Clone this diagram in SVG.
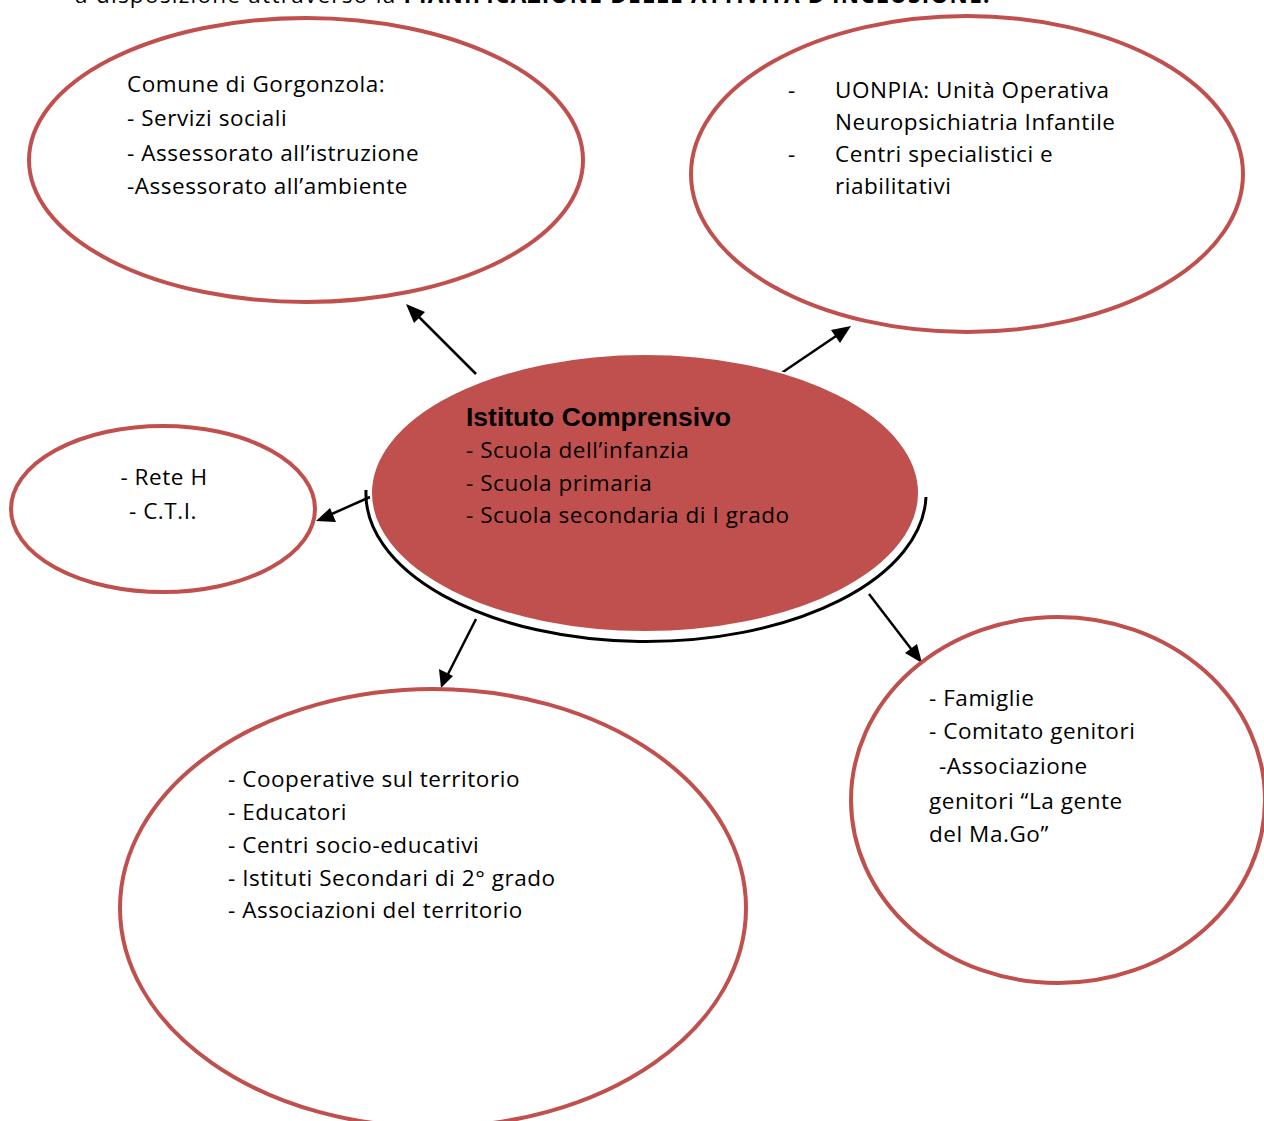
<svg xmlns="http://www.w3.org/2000/svg" width="1264" height="1121" viewBox="0 0 1264 1121">
<style>
.node{fill:#ffffff;stroke:#c0504d;stroke-width:4}
.t{font-family:"Open Sans",Lato,"Liberation Sans",sans-serif;font-size:22.5px;letter-spacing:0.55px;fill:#000;font-variant-ligatures:none}
.b{font-family:"Liberation Sans",Arial,sans-serif;font-size:26.5px;font-weight:bold;fill:#000}
.ln{stroke:#000;stroke-width:2.5;fill:none}
</style>
<rect width="1264" height="1121" fill="#fff"/>
<text class="t" x="75" y="3" textLength="915" lengthAdjust="spacing">a disposizione attraverso la <tspan font-weight="bold">PIANIFICAZIONE DELLE ATTIVITÀ D’INCLUSIONE.</tspan></text>
<g id="connectors">
<line class="ln" x1="476" y1="374" x2="412" y2="310"/>
<path d="M406,304 L425,312 L414,323 z" fill="#000"/>
<line class="ln" x1="780" y1="374" x2="842" y2="332"/>
<path d="M851,326 L840,343 L831,330 z" fill="#000"/>
<line class="ln" x1="370" y1="497" x2="325" y2="517"/>
<path d="M316,521 L330,508 L336,522 z" fill="#000"/>
<line class="ln" x1="476" y1="619" x2="446" y2="678"/>
<path d="M441,688 L439,669 L453,676 z" fill="#000"/>
<line class="ln" x1="869" y1="594" x2="915" y2="654"/>
<path d="M922,663 L905,653 L917,644 z" fill="#000"/>
</g>
<g id="comune">
<ellipse class="node" cx="306" cy="160" rx="277" ry="142"/>
<text class="t" x="127" y="92">Comune di Gorgonzola:</text>
<text class="t" x="127" y="126">- Servizi sociali</text>
<text class="t" x="127" y="161">- Assessorato all’istruzione</text>
<text class="t" x="127" y="194">-Assessorato all’ambiente</text>
</g>
<g id="uonpia">
<ellipse class="node" cx="967" cy="174" rx="276" ry="158"/>
<text class="t" x="788" y="98">-</text>
<text class="t" x="835" y="98">UONPIA: Unità Operativa</text>
<text class="t" x="835" y="130">Neuropsichiatria Infantile</text>
<text class="t" x="788" y="162">-</text>
<text class="t" x="835" y="162">Centri specialistici e</text>
<text class="t" x="835" y="194">riabilitativi</text>
</g>
<g id="reteh">
<ellipse class="node" cx="163" cy="509" rx="152" ry="83"/>
<text class="t" x="164" y="485" text-anchor="middle">- Rete H</text>
<text class="t" x="163" y="519" text-anchor="middle">- C.T.I.</text>
</g>
<g id="istituto">
<path d="M366,490 A280,148 0 0 0 926,497" fill="none" stroke="#000" stroke-width="3"/>
<ellipse cx="645" cy="493" rx="274" ry="139" fill="#c0504d" stroke="#fff" stroke-width="2"/>
<text class="b" x="466" y="426">Istituto Comprensivo</text>
<text class="t" x="466" y="458">- Scuola dell’infanzia</text>
<text class="t" x="466" y="491">- Scuola primaria</text>
<text class="t" x="466" y="523">- Scuola secondaria di I grado</text>
</g>
<g id="cooperative">
<ellipse class="node" cx="433" cy="908" rx="313" ry="219"/>
<text class="t" x="228" y="787">- Cooperative sul territorio</text>
<text class="t" x="228" y="820">- Educatori</text>
<text class="t" x="228" y="853">- Centri socio-educativi</text>
<text class="t" x="228" y="886">- Istituti Secondari di 2° grado</text>
<text class="t" x="228" y="918">- Associazioni del territorio</text>
</g>
<g id="famiglie">
<ellipse class="node" cx="1058" cy="800" rx="207" ry="183"/>
<text class="t" x="929" y="706">- Famiglie</text>
<text class="t" x="929" y="739">- Comitato genitori</text>
<text class="t" x="939" y="774">-Associazione</text>
<text class="t" x="929" y="809">genitori “La gente</text>
<text class="t" x="929" y="842">del Ma.Go”</text>
</g>
</svg>
